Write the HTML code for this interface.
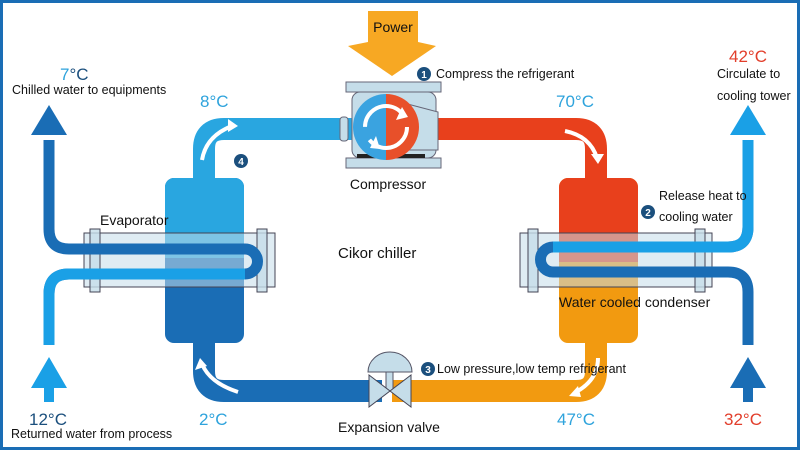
<!DOCTYPE html>
<html><head><meta charset="utf-8"><style>
html,body{margin:0;padding:0;background:#fff}
svg{display:block}
text{font-family:"Liberation Sans",sans-serif}
</style></head><body>
<svg width="800" height="450" viewBox="0 0 800 450" xmlns="http://www.w3.org/2000/svg">
<rect x="1.5" y="1.5" width="797" height="447" fill="#fff" stroke="#1a6db5" stroke-width="3"/>

<!-- Power arrow -->
<polygon points="368,11 418,11 418,42 436,46 392,76 348,46 368,42" fill="#f7a823"/>
<text x="393" y="32" font-size="14" text-anchor="middle" fill="#111">Power</text>

<!-- refrigerant pipes -->
<path d="M360,129 H224 Q204,129 204,149 V185" fill="none" stroke="#29a6e0" stroke-width="22"/>
<path d="M430,129 H576 Q596,129 596,149 V185" fill="none" stroke="#e8401c" stroke-width="22"/>
<path d="M204,335 V371 Q204,391 224,391 H382" fill="none" stroke="#1a6db5" stroke-width="22"/>
<path d="M392,391 H576 Q596,391 596,371 V335" fill="none" stroke="#f29a10" stroke-width="22"/>

<!-- flow arrows -->
<g fill="none" stroke="#fff" stroke-width="4">
<path d="M202,160 Q206,136 232,126"/>
<path d="M565,131 Q590,136 597,158"/>
<path d="M598,358 Q598,380 576,392"/>
<path d="M238,392 Q210,383 202,364"/>
</g>
<g fill="#fff">
<polygon points="238,126 228,119 228,132"/>
<polygon points="598,164 591,154 604,154"/>
<polygon points="569,396 578,386 581,397"/>
<polygon points="200,358 195,370 207,366"/>
</g>

<!-- evaporator body -->
<rect x="165" y="178" width="79" height="165" rx="9" fill="#1a6db5"/>
<rect x="165" y="178" width="79" height="80" rx="9" fill="#29a6e0"/>
<rect x="165" y="240" width="79" height="18" fill="#29a6e0"/>
<!-- condenser body -->
<rect x="559" y="178" width="79" height="165" rx="9" fill="#f29a10"/>
<rect x="559" y="178" width="79" height="84" rx="9" fill="#e8401c"/>
<rect x="559" y="240" width="79" height="22" fill="#e8401c"/>

<!-- evaporator shell -->
<rect x="84" y="233" width="191" height="54" fill="#c5dde9" fill-opacity="0.55" stroke="#445" stroke-width="1"/>
<rect x="90" y="229" width="10" height="63" fill="#c5dde9" fill-opacity="0.8" stroke="#445" stroke-width="1"/>
<rect x="257" y="229" width="10" height="63" fill="#c5dde9" fill-opacity="0.8" stroke="#445" stroke-width="1"/>
<!-- condenser shell -->
<rect x="520" y="233" width="192" height="54" fill="#c5dde9" fill-opacity="0.55" stroke="#445" stroke-width="1"/>
<rect x="528" y="229" width="10" height="63" fill="#c5dde9" fill-opacity="0.8" stroke="#445" stroke-width="1"/>
<rect x="695" y="229" width="10" height="63" fill="#c5dde9" fill-opacity="0.8" stroke="#445" stroke-width="1"/>

<!-- evaporator water tubes -->
<path d="M49,140 V229 Q49,249 69,249 H245 A12.5,12.5 0 0 1 245,274 H69 Q49,274 49,294 V345" fill="none" stroke="#1a6db5" stroke-width="11"/>
<path d="M245,274 H69 Q49,274 49,294 V345" fill="none" stroke="#1aa0e6" stroke-width="11"/>
<!-- condenser water tubes -->
<path d="M748,140 V227 Q748,247 728,247 H553 A12.5,12.5 0 0 0 553,272 H728 Q748,272 748,292 V345" fill="none" stroke="#1a6db5" stroke-width="11"/>
<path d="M748,140 V227 Q748,247 728,247 H553" fill="none" stroke="#1aa0e6" stroke-width="11"/>

<!-- big arrows -->
<polygon points="49,105 67,135 31,135" fill="#1a6db5"/>
<polygon points="49,357 67,388 31,388" fill="#1aa0e6"/><rect x="44" y="386" width="10" height="16" fill="#1aa0e6"/>
<polygon points="748,105 766,135 730,135" fill="#1aa0e6"/>
<polygon points="748,357 766,388 730,388" fill="#1a6db5"/><rect x="743" y="386" width="10" height="16" fill="#1a6db5"/>

<!-- compressor -->
<rect x="346" y="82" width="95" height="10" fill="#c5dde9" stroke="#667" stroke-width="1"/>
<rect x="346" y="158" width="95" height="10" fill="#c5dde9" stroke="#667" stroke-width="1"/>
<rect x="352" y="92" width="84" height="66" rx="8" fill="#c5dde9" stroke="#667" stroke-width="1"/>
<rect x="340" y="117" width="8" height="24" rx="3" fill="#c5dde9" stroke="#667"/>
<polygon points="400,102 438,112 438,150 400,150" fill="#c5dde9" stroke="#667"/>
<rect x="357" y="154" width="68" height="4" fill="#222"/>
<path d="M386,94 A33,33 0 0 0 386,160 Z" fill="#3aa3e0"/>
<path d="M386,94 A33,33 0 0 1 386,160 Z" fill="#e8502a"/>
<circle cx="386" cy="127" r="21" fill="none" stroke="#fff" stroke-width="4" stroke-dasharray="52 14"/>
<polygon points="402,107 396,120 408,117" fill="#fff"/>
<polygon points="370,148 376,136 380,149" fill="#fff"/>
<text x="388" y="189" font-size="14" text-anchor="middle" fill="#111">Compressor</text>

<!-- valve -->
<path d="M368,372 A22,20 0 0 1 412,372 Z" fill="#c5dde9" stroke="#556"/>
<rect x="386" y="372" width="7" height="19" fill="#c5dde9" stroke="#556"/>
<polygon points="369,375 390,391 369,407" fill="#c5dde9" stroke="#445"/>
<polygon points="411,375 390,391 411,407" fill="#c5dde9" stroke="#445"/>
<text x="389" y="432" font-size="14" text-anchor="middle" fill="#111">Expansion valve</text>

<!-- numbered circles -->
<g fill="#1b4f7d"><circle cx="424" cy="74" r="7"/><circle cx="648" cy="212" r="7"/><circle cx="428" cy="369" r="7"/><circle cx="241" cy="161" r="7"/></g>
<g fill="#fff" font-size="10" text-anchor="middle" font-weight="bold"><text x="424" y="78">1</text><text x="648" y="216">2</text><text x="428" y="373">3</text><text x="241" y="165">4</text></g>

<!-- labels -->
<g font-size="12.5" fill="#111">
<text x="436" y="78">Compress the refrigerant</text>
<text x="659" y="200">Release heat to</text>
<text x="659" y="221">cooling water</text>
<text x="437" y="373">Low pressure,low temp refrigerant</text>
<text x="12" y="94">Chilled water to equipments</text>
<text x="11" y="438">Returned water from process</text>
<text x="717" y="78">Circulate to</text>
<text x="717" y="100">cooling tower</text>
</g>
<text x="100" y="225" font-size="14" fill="#111">Evaporator</text>
<text x="559" y="307" font-size="14" fill="#111">Water cooled condenser</text>
<text x="338" y="258" font-size="15" fill="#111">Cikor chiller</text>

<g font-size="17">
<text x="60" y="80" fill="#2ea3dc">7<tspan fill="#1b4f7d">°C</tspan></text>
<text x="29" y="425" fill="#1b4f7d">12°C</text>
<text x="200" y="107" fill="#2ea3dc">8°C</text>
<text x="199" y="425" fill="#2ea3dc">2°C</text>
<text x="556" y="107" fill="#2ea3dc">70°C</text>
<text x="557" y="425" fill="#2ea3dc">47°C</text>
<text x="729" y="62" fill="#e23e2b">42°C</text>
<text x="724" y="425" fill="#e23e2b">32°C</text>
</g>
</svg>
</body></html>
